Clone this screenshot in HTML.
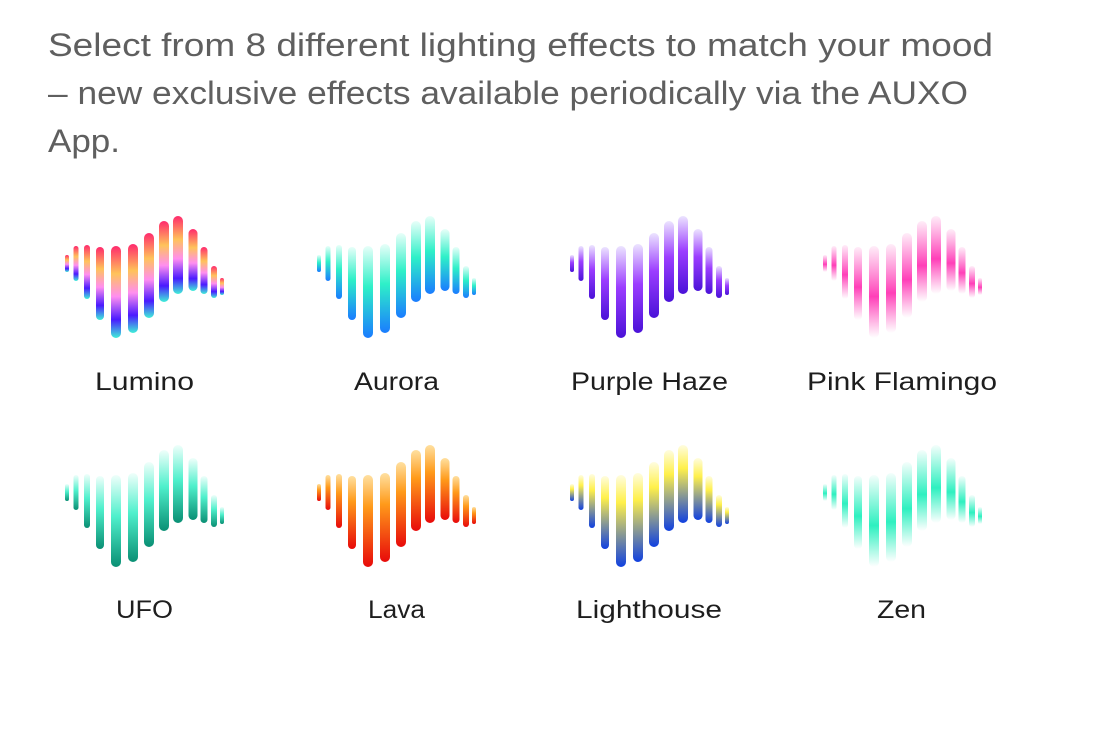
<!DOCTYPE html>
<html><head><meta charset="utf-8"><style>
html,body{margin:0;padding:0;background:#fff;width:1108px;height:746px;overflow:hidden}
</style></head><body>
<svg width="1108" height="746" viewBox="0 0 1108 746" xmlns="http://www.w3.org/2000/svg">
<defs>
<linearGradient id="lum" x1="0" y1="0" x2="0" y2="1"><stop offset="0" stop-color="#ff2a6d"/><stop offset="0.3" stop-color="#ffc35a"/><stop offset="0.55" stop-color="#ff8ef0"/><stop offset="0.8" stop-color="#4a1aff"/><stop offset="1" stop-color="#3ff0d8"/></linearGradient>
<linearGradient id="aur" x1="0" y1="0" x2="0" y2="1"><stop offset="0" stop-color="#e8fff9"/><stop offset="0.45" stop-color="#2ef0c8"/><stop offset="1" stop-color="#1a7cff"/></linearGradient>
<linearGradient id="pur" x1="0" y1="0" x2="0" y2="1"><stop offset="0" stop-color="#ece4ff"/><stop offset="0.45" stop-color="#9b3dff"/><stop offset="1" stop-color="#4a12d8"/></linearGradient>
<linearGradient id="pnk" x1="0" y1="0" x2="0" y2="1"><stop offset="0" stop-color="#ff4fbf" stop-opacity="0.1"/><stop offset="0.55" stop-color="#ff3fb8"/><stop offset="1" stop-color="#ff4fbf" stop-opacity="0"/></linearGradient>
<linearGradient id="ufo" x1="0" y1="0" x2="0" y2="1"><stop offset="0" stop-color="#f0fffb"/><stop offset="0.45" stop-color="#4ff0cc"/><stop offset="1" stop-color="#0a8f74"/></linearGradient>
<linearGradient id="lav" x1="0" y1="0" x2="0" y2="1"><stop offset="0" stop-color="#ffe0a0"/><stop offset="0.35" stop-color="#ff9a1a"/><stop offset="1" stop-color="#e80a0a"/></linearGradient>
<linearGradient id="lig" x1="0" y1="0" x2="0" y2="1"><stop offset="0" stop-color="#fffde0"/><stop offset="0.3" stop-color="#fff04a"/><stop offset="1" stop-color="#1040e0"/></linearGradient>
<linearGradient id="zen" x1="0" y1="0" x2="0" y2="1"><stop offset="0" stop-color="#2ef0c0" stop-opacity="0.05"/><stop offset="0.55" stop-color="#2ef0c0"/><stop offset="1" stop-color="#2ef0c0" stop-opacity="0"/></linearGradient>
<g id="bars">
<rect x="65" y="255" width="4" height="17" rx="2"/>
<rect x="73.5" y="246" width="5" height="35" rx="2.5"/>
<rect x="84" y="245" width="6" height="54" rx="3"/>
<rect x="96" y="247" width="8" height="73" rx="4"/>
<rect x="111" y="246" width="10" height="92" rx="5"/>
<rect x="128" y="244" width="10" height="89" rx="5"/>
<rect x="144" y="233" width="10" height="85" rx="5"/>
<rect x="159" y="221" width="10" height="81" rx="5"/>
<rect x="173" y="216" width="10" height="78" rx="5"/>
<rect x="188.5" y="229" width="9" height="62" rx="4.5"/>
<rect x="200.5" y="247" width="7" height="47" rx="3.5"/>
<rect x="211" y="266" width="6" height="32" rx="3"/>
<rect x="220" y="278" width="4" height="17" rx="2"/>
</g>
</defs>
<g font-family="Liberation Sans, sans-serif" fill="#5f5f5f" font-size="32">
<text x="48" y="56" textLength="945" lengthAdjust="spacingAndGlyphs">Select from 8 different lighting effects to match your mood</text>
<text x="48" y="104" textLength="920" lengthAdjust="spacingAndGlyphs">– new exclusive effects available periodically via the AUXO</text>
<text x="48" y="152" textLength="72" lengthAdjust="spacingAndGlyphs">App.</text>
</g>
<use href="#bars" fill="url(#lum)"/>
<use href="#bars" fill="url(#aur)" transform="translate(252,0)"/>
<use href="#bars" fill="url(#pur)" transform="translate(505,0)"/>
<use href="#bars" fill="url(#pnk)" transform="translate(758,0)"/>
<use href="#bars" fill="url(#ufo)" transform="translate(0,229)"/>
<use href="#bars" fill="url(#lav)" transform="translate(252,229)"/>
<use href="#bars" fill="url(#lig)" transform="translate(505,229)"/>
<use href="#bars" fill="url(#zen)" transform="translate(758,229)"/>
<g font-family="Liberation Sans, sans-serif" fill="#1e1e1e" font-size="25">
<text x="95" y="390" textLength="99" lengthAdjust="spacingAndGlyphs">Lumino</text>
<text x="354" y="390" textLength="85" lengthAdjust="spacingAndGlyphs">Aurora</text>
<text x="571" y="390" textLength="157" lengthAdjust="spacingAndGlyphs">Purple Haze</text>
<text x="807" y="390" textLength="190" lengthAdjust="spacingAndGlyphs">Pink Flamingo</text>
<text x="116" y="618" textLength="57" lengthAdjust="spacingAndGlyphs">UFO</text>
<text x="368" y="618" textLength="57" lengthAdjust="spacingAndGlyphs">Lava</text>
<text x="576" y="618" textLength="146" lengthAdjust="spacingAndGlyphs">Lighthouse</text>
<text x="877" y="618" textLength="49" lengthAdjust="spacingAndGlyphs">Zen</text>
</g>
</svg>
</body></html>
